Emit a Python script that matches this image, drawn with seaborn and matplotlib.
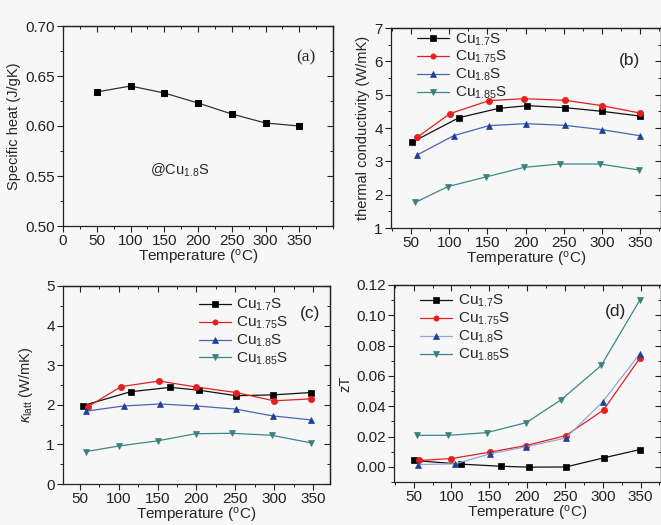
import matplotlib
matplotlib.use("Agg")
import matplotlib.pyplot as plt
import seaborn as sns
from matplotlib.lines import Line2D
from matplotlib.ticker import MultipleLocator, FormatStrFormatter

# ---------------- data ----------------
# (a) specific heat of Cu1.8S
temp_a = [50, 100, 150, 200, 250, 300, 350]
cp_a = [0.634, 0.640, 0.633, 0.623, 0.612, 0.603, 0.600]

series_names = [r"Cu$_\mathrm{1.7}$S", r"Cu$_\mathrm{1.75}$S", r"Cu$_\mathrm{1.8}$S", r"Cu$_\mathrm{1.85}$S"]

# (b) thermal conductivity
kb_t17 = [52, 113, 165, 202, 252, 300, 349]
kb_17 = [3.58, 4.31, 4.59, 4.67, 4.61, 4.50, 4.36]
kb_t175 = [58, 101, 152, 198, 252, 300, 349]
kb_175 = [3.72, 4.43, 4.82, 4.88, 4.83, 4.67, 4.45]
kb_t18 = [58, 106, 152, 200, 251, 300, 349]
kb_18 = [3.19, 3.77, 4.07, 4.13, 4.08, 3.95, 3.77]
kb_t185 = [56, 98, 148, 198, 245, 297, 348]
kb_185 = [1.77, 2.24, 2.53, 2.82, 2.92, 2.92, 2.74]

# (c) lattice thermal conductivity
kc_t17 = [54, 115, 166, 203, 251, 299, 347]
kc_17 = [1.98, 2.33, 2.44, 2.37, 2.23, 2.25, 2.31]
kc_t175 = [60, 103, 152, 199, 251, 300, 347]
kc_175 = [1.95, 2.46, 2.60, 2.45, 2.31, 2.10, 2.15]
kc_t18 = [58, 106, 153, 200, 251, 298, 347]
kc_18 = [1.84, 1.97, 2.02, 1.97, 1.89, 1.72, 1.62]
kc_t185 = [58, 100, 150, 199, 246, 297, 347]
kc_185 = [0.82, 0.96, 1.09, 1.27, 1.28, 1.23, 1.04]

# (d) zT
zd_t17 = [51, 112, 165, 202, 251, 301, 349]
zd_17 = [0.0042, 0.0018, 0.0004, -0.0002, -0.0001, 0.0059, 0.0114]
zd_t175 = [57, 100, 151, 198, 251, 301, 349]
zd_175 = [0.0042, 0.0055, 0.0097, 0.0140, 0.0206, 0.0375, 0.0717]
zd_t18 = [56, 105, 151, 198, 251, 300, 349]
zd_18 = [0.0015, 0.0020, 0.0086, 0.0132, 0.0190, 0.0430, 0.0746]
zd_t185 = [54, 96, 147, 199, 245, 298, 349]
zd_185 = [0.0208, 0.0208, 0.0226, 0.0292, 0.0443, 0.0669, 0.1100]

# ---------------- style ----------------
sns.set_theme(style="ticks")
BG = "#f7f7f7"
plt.rcParams.update({
    "font.family": ["Liberation Sans", "DejaVu Sans"],
    "mathtext.fontset": "custom",
    "mathtext.rm": "Liberation Sans",
    "mathtext.it": "Liberation Sans:italic",
    "mathtext.bf": "Liberation Sans:bold",
    "figure.facecolor": BG,
    "axes.facecolor": BG,
    "axes.edgecolor": "#222222",
    "axes.linewidth": 0.9,
    "xtick.color": "#222222",
    "ytick.color": "#222222",
})

W, H = 661, 525
fig = plt.figure(figsize=(W / 100, H / 100), dpi=100)


def make_ax(l, r, t, b):
    return fig.add_axes([l / W, 1 - b / H, (r - l) / W, (b - t) / H])


def style_ax(ax, xmaj, xmin, ymaj, ymin):
    ax.xaxis.set_major_locator(MultipleLocator(xmaj))
    ax.xaxis.set_minor_locator(MultipleLocator(xmin))
    ax.yaxis.set_major_locator(MultipleLocator(ymaj))
    ax.yaxis.set_minor_locator(MultipleLocator(ymin))
    ax.tick_params(which="major", direction="out", length=4, width=0.8, labelsize=11, pad=2)
    ax.tick_params(which="minor", direction="out", length=2.5, width=0.7)
    for side in ["top", "right"]:
        ax.spines[side].set_visible(True)
    sx = ax.secondary_xaxis("top")
    sx.xaxis.set_major_locator(MultipleLocator(xmaj))
    sx.xaxis.set_minor_locator(MultipleLocator(xmin))
    sx.tick_params(which="major", direction="in", length=4, width=0.8, labeltop=False)
    sx.tick_params(which="minor", direction="in", length=2.5, width=0.7)
    sy = ax.secondary_yaxis("right")
    sy.yaxis.set_major_locator(MultipleLocator(ymaj))
    sy.yaxis.set_minor_locator(MultipleLocator(ymin))
    sy.tick_params(which="major", direction="in", length=4, width=0.8, labelright=False)
    sy.tick_params(which="minor", direction="in", length=2.5, width=0.7)
    ax.set_xlabel(r"Temperature ($^\mathrm{o}$C)", fontsize=11, labelpad=0)


COL_LINE = ["#111111", "#e3201b", "#4a64b4", "#3d8787"]
COL_MARK = ["#000000", "#e3201b", "#1f3f98", "#3a8080"]
MARKERS = ["s", "o", "^", "v"]
MSIZE = 4.5


def draw_series(ax, xs_list, ys_list, line_cols=COL_LINE, bbox=None):
    handles = []
    for i, (xs, ys) in enumerate(zip(xs_list, ys_list)):
        sns.lineplot(x=xs, y=ys, ax=ax, color=line_cols[i], linewidth=0.9,
                     marker=MARKERS[i], markersize=MSIZE,
                     markerfacecolor=COL_MARK[i], markeredgecolor=COL_MARK[i],
                     markeredgewidth=0.5, sort=False)
        handles.append(Line2D([], [], color=line_cols[i], linewidth=0.9,
                              marker=MARKERS[i], markersize=3.8,
                              markerfacecolor=COL_MARK[i], markeredgecolor=COL_MARK[i],
                              markeredgewidth=0.5))
    ax.legend(handles, series_names, loc="upper left", bbox_to_anchor=bbox, frameon=False,
              fontsize=11, handlelength=2.1, handletextpad=0.35, labelspacing=0.1,
              borderaxespad=0)


# ---------- (a) ----------
axa = make_ax(63, 333, 26, 226)
sns.lineplot(x=temp_a, y=cp_a, ax=axa, color="#333333", linewidth=0.9,
             marker="s", markersize=4.3, markerfacecolor="black", markeredgecolor="black")
axa.set_xlim(0, 400)
axa.set_ylim(0.50, 0.70)
style_ax(axa, 50, 25, 0.05, 0.025)
axa.set_xticks([0, 50, 100, 150, 200, 250, 300, 350])
axa.set_ylabel("Specific heat (J/gK)", fontsize=10.5, labelpad=3)
axa.yaxis.set_major_formatter(FormatStrFormatter("%.2f"))
axa.text(129, 0.556, r"@Cu$_\mathrm{1.8}$S", fontsize=10.5, va="center", ha="left")
axa.text(0.90, 0.845, "(a)", transform=axa.transAxes, fontsize=12.5,
         family="Liberation Serif", ha="center", va="center")

# ---------- (b) ----------
axb = make_ax(391, 661, 28, 228)
draw_series(axb, [kb_t17, kb_t175, kb_t18, kb_t185], [kb_17, kb_175, kb_18, kb_185],
            bbox=(0.075, 1.015))
axb.set_xlim(24, 377)
axb.set_ylim(1, 7)
style_ax(axb, 50, 25, 1, 0.5)
axb.set_xticks([50, 100, 150, 200, 250, 300, 350])
axb.set_ylabel("thermal conductivity (W/mK)", fontsize=10.5, labelpad=3)
axb.text(0.885, 0.84, "(b)", transform=axb.transAxes, fontsize=12.5, ha="center", va="center")

# ---------- (c) ----------
axc = make_ax(63, 330, 286, 484)
draw_series(axc, [kc_t17, kc_t175, kc_t18, kc_t185], [kc_17, kc_175, kc_18, kc_185],
            bbox=(0.485, 0.975))
axc.set_xlim(28, 372)
axc.set_ylim(0, 5)
style_ax(axc, 50, 25, 1, 0.5)
axc.set_xticks([50, 100, 150, 200, 250, 300, 350])
axc.set_ylabel(r"$\kappa_\mathrm{latt}$ (W/mK)", fontsize=10.5, labelpad=8)
axc.text(0.925, 0.86, "(c)", transform=axc.transAxes, fontsize=12.5, ha="center", va="center")

# ---------- (d) ----------
axd = make_ax(394, 661, 285, 482)
line_d = ["#111111", "#e3201b", "#8fa8dc", "#3d8787"]
draw_series(axd, [zd_t17, zd_t175, zd_t18, zd_t185], [zd_17, zd_175, zd_18, zd_185],
            line_cols=line_d, bbox=(0.075, 0.99))
axd.set_xlim(24, 377)
axd.set_ylim(-0.01, 0.12)
style_ax(axd, 50, 25, 0.02, 0.01)
axd.set_xticks([50, 100, 150, 200, 250, 300, 350])
axd.yaxis.set_major_formatter(FormatStrFormatter("%.2f"))
axd.set_ylabel("zT", fontsize=10.5, labelpad=3)
axd.text(0.83, 0.865, "(d)", transform=axd.transAxes, fontsize=12.5, ha="center", va="center")

fig.savefig("out.png", dpi=100, facecolor=BG)
